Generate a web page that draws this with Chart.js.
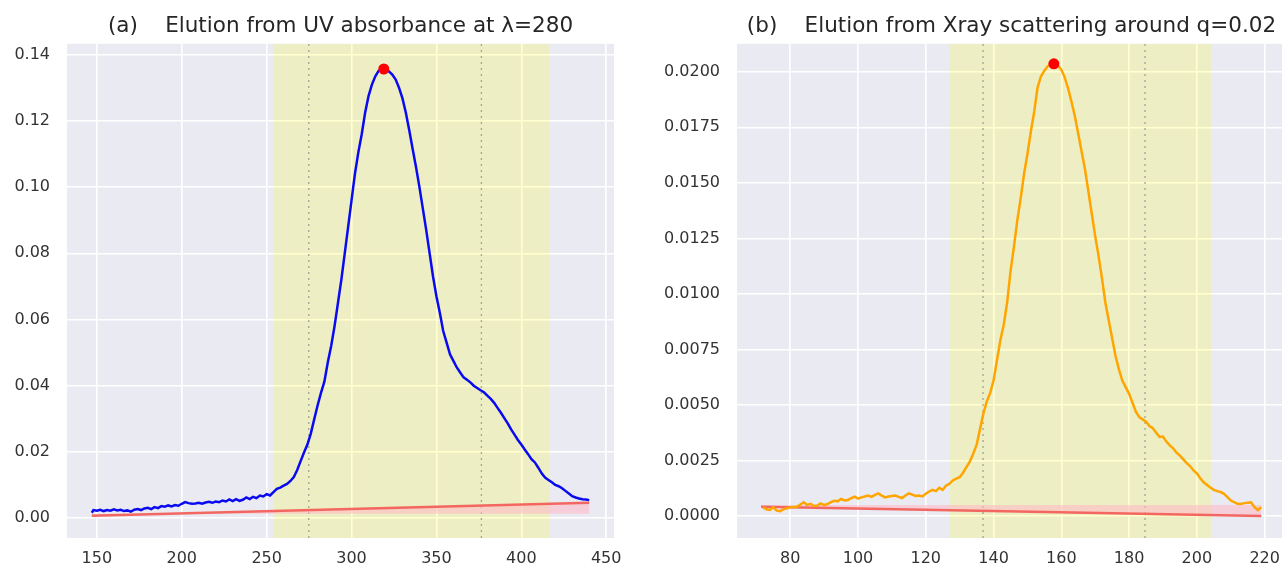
<!DOCTYPE html>
<html>
<head>
<meta charset="utf-8">
<script src="https://cdn.jsdelivr.net/npm/chart.js@4/dist/chart.umd.min.js"></script>
<style>
  html, body { margin: 0; padding: 0; background: #ffffff; overflow: hidden; width: 1282px; height: 572px; }
  .box { position: absolute; top: 0; height: 572px; }
  #boxA { left: 0; width: 640px; }
  #boxB { left: 640px; width: 660px; }
</style>
</head>
<body>
<div class="box" id="boxA"><canvas id="chartA"></canvas></div>
<div class="box" id="boxB"><canvas id="chartB"></canvas></div>
<script>
// ---------- Panel (a): UV absorbance at 280 ----------
const uvTitle = "(a)    Elution from UV absorbance at \u03bb=280";
const uvFrames = [147,148,150,152,154,156,158,160,162,164,166,168,170,172,174,176,178,180,182,184,186,188,190,192,194,196,198,200,202,204,206,208,210,212,214,216,218,220,222,224,226,228,230,232,234,236,238,240,242,244,246,248,250,252,254,256,258,260,262,264,266,268,270,272,274,276,278,280,282,284,286,288,290,292,294,296,298,300,302,304,306,308,310,312,314,316,318,320,322,324,326,328,330,332,334,336,338,340,342,344,346,348,350,352,354,356,358,360,362,364,366,368,370,372,374,376,378,380,382,384,386,388,390,392,394,396,398,400,402,404,406,408,410,412,414,416,418,420,422,424,426,428,430,432,434,436,438,440];
const uvAbs = [0.0016,0.0024,0.0022,0.0025,0.0021,0.0024,0.0022,0.0026,0.0023,0.0025,0.0021,0.0023,0.0019,0.0025,0.0027,0.0024,0.0029,0.0031,0.0027,0.0033,0.0030,0.0036,0.0034,0.0038,0.0035,0.0039,0.0037,0.0043,0.0048,0.0045,0.0043,0.0044,0.0046,0.0043,0.0047,0.0049,0.0046,0.0050,0.0048,0.0053,0.0050,0.0056,0.0051,0.0057,0.0052,0.0055,0.0062,0.0057,0.0064,0.0060,0.0068,0.0065,0.0072,0.0068,0.0078,0.0088,0.0092,0.0098,0.0103,0.0112,0.0124,0.0145,0.0172,0.0198,0.0222,0.0255,0.0298,0.0340,0.0378,0.0412,0.0470,0.0520,0.0580,0.0650,0.0720,0.0800,0.0880,0.0960,0.1040,0.1105,0.1160,0.1225,0.1275,0.1310,0.1335,0.1352,0.1357,0.1354,0.1350,0.1340,0.1325,0.1300,0.1268,0.1225,0.1172,0.1115,0.1060,0.1000,0.0935,0.0870,0.0800,0.0730,0.0670,0.0620,0.0565,0.0530,0.0495,0.0475,0.0455,0.0440,0.0425,0.0418,0.0410,0.0400,0.0393,0.0386,0.0380,0.0370,0.0360,0.0348,0.0333,0.0318,0.0302,0.0286,0.0268,0.0252,0.0236,0.0222,0.0207,0.0193,0.0178,0.0168,0.0152,0.0135,0.0122,0.0115,0.0108,0.0100,0.0096,0.0090,0.0082,0.0074,0.0066,0.0062,0.0059,0.0057,0.0056,0.0054];
const uvPeak = [319, 0.1357];
const uvBaseX = [147, 440];
const uvBaseY = [0.0007, 0.0046];
const uvBandLevel = [0.0013, 0.0013];
const uvRange = [253.9, 416.7];
const uvMarks = [274.8, 376.5];
const uvXLim = [132.4, 454.6];
const uvYLim = [-0.00604, 0.14332];
const uvXTicks = [150, 200, 250, 300, 350, 400, 450];
const uvYTicks = [0.00, 0.02, 0.04, 0.06, 0.08, 0.10, 0.12, 0.14];

// ---------- Panel (b): X-ray scattering around q=0.02 ----------
const xrTitle = "(b)    Elution from Xray scattering around q=0.02";
const xrFrames = [72,73,74,75,76,77,78,80,82,84,85,86,87,88,89,90,91,92,93,94,95,96,97,98,99,100,101,102,103,104,105,106,107,108,109,110,111,112,113,114,115,116,117,118,119,120,121,122,123,124,125,126,127,128,129,130,131,132,133,134,135,136,137,138,139,140,141,142,143,144,145,146,147,148,149,150,151,152,153,154,155,156,157,158,159,160,161,162,163,164,165,166,167,168,169,170,171,172,173,174,175,176,177,178,179,180,181,182,183,184,185,186,187,188,189,190,191,192,193,194,195,196,197,198,199,200,201,202,203,204,205,206,207,208,209,210,211,212,213,214,215,216,217,218,219];
const xrInt = [0.00039,0.00030,0.00027,0.00040,0.00024,0.00022,0.00030,0.00039,0.00042,0.00062,0.00050,0.00055,0.00045,0.00047,0.00057,0.00049,0.00054,0.00062,0.00069,0.00066,0.00077,0.00070,0.00072,0.00080,0.00087,0.00078,0.00084,0.00088,0.00092,0.00086,0.00095,0.00102,0.00092,0.00084,0.00088,0.00090,0.00092,0.00086,0.00081,0.00092,0.00102,0.00096,0.00090,0.00092,0.00088,0.00100,0.00110,0.00118,0.00112,0.00127,0.00118,0.00137,0.00145,0.00160,0.00168,0.00175,0.00195,0.00220,0.00245,0.00280,0.00320,0.00390,0.00462,0.00515,0.00553,0.00610,0.00700,0.00790,0.00860,0.00960,0.01100,0.01210,0.01330,0.01430,0.01540,0.01630,0.01730,0.01820,0.01930,0.01980,0.02005,0.02025,0.02033,0.02036,0.02028,0.02010,0.01975,0.01925,0.01865,0.01800,0.01720,0.01640,0.01560,0.01460,0.01360,0.01260,0.01170,0.01070,0.00960,0.00880,0.00800,0.00720,0.00660,0.00610,0.00580,0.00550,0.00510,0.00470,0.00445,0.00435,0.00425,0.00405,0.00395,0.00375,0.00356,0.00358,0.00335,0.00318,0.00305,0.00285,0.00272,0.00255,0.00238,0.00225,0.00205,0.00192,0.00170,0.00152,0.00140,0.00128,0.00118,0.00112,0.00108,0.00100,0.00085,0.00070,0.00062,0.00055,0.00054,0.00058,0.00060,0.00062,0.00040,0.00027,0.00039];
const xrPeak = [157.8, 0.02036];
const xrBaseX = [71.4, 219];
const xrBaseY = [0.00042, 0.0000];
const xrBandLevel = [0.00050, 0.00050];
const xrRange = [127.1, 204.2];
const xrMarks = [136.9, 184.7];
const xrXLim = [64.3, 226.3];
const xrYLim = [-0.00099, 0.02126];
const xrXTicks = [80, 100, 120, 140, 160, 180, 200, 220];
const xrYTicks = [0.0000, 0.0025, 0.0050, 0.0075, 0.0100, 0.0125, 0.0150, 0.0175, 0.0200];

// ---------- shared styling ----------
const FONT = "'DejaVu Sans', 'Open Sans', sans-serif";
const TEXT = '#333333';
const PLOT_BG = '#EAEAF2';

const plotBg = {
  id: 'plotBg',
  afterLayout(chart) {
    // centre the title over the plotting area (as matplotlib does)
    const t = chart.titleBlock, a = chart.chartArea;
    if (t && a) { t.left = a.left; t.right = a.right; t.width = a.right - a.left; }
  },
  beforeDraw(chart) {
    const a = chart.chartArea, c = chart.ctx;
    c.save();
    c.fillStyle = PLOT_BG;
    c.fillRect(a.left, a.top, a.right - a.left, a.bottom - a.top);
    c.restore();
  }
};

function zip(xs, ys) { return xs.map((x, i) => ({ x: x, y: ys[i] })); }

function makeChart(id, cfg) {
  const ylo = cfg.yLim[0], yhi = cfg.yLim[1];
  const datasets = [
    { // peak marker
      type: 'scatter', data: [{ x: cfg.peak[0], y: cfg.peak[1] }],
      pointRadius: 5.5, pointBackgroundColor: '#ff0000', pointBorderWidth: 0, pointHoverRadius: 5.5
    },
    { // elution curve
      type: 'line', data: zip(cfg.xs, cfg.ys), borderColor: cfg.color, borderWidth: 2.5,
      pointRadius: 0, tension: 0, fill: false
    },
    { // baseline
      type: 'line', data: zip(cfg.baseX, cfg.baseY), borderColor: 'rgba(242,96,90,0.95)', borderWidth: 2.4,
      pointRadius: 0, fill: false
    },
    { // band edge (pink fill to baseline)
      type: 'line', data: zip(cfg.baseX, cfg.band), borderColor: 'rgba(0,0,0,0)', borderWidth: 0,
      pointRadius: 0, fill: '-1', backgroundColor: 'rgba(255,182,196,0.55)'
    },
    { // dotted marker 1
      type: 'line', data: [{ x: cfg.marks[0], y: ylo }, { x: cfg.marks[0], y: yhi }],
      borderColor: 'rgba(150,150,140,0.8)', borderWidth: 1.4, borderDash: [2, 4], pointRadius: 0, fill: false
    },
    { // dotted marker 2
      type: 'line', data: [{ x: cfg.marks[1], y: ylo }, { x: cfg.marks[1], y: yhi }],
      borderColor: 'rgba(150,150,140,0.8)', borderWidth: 1.4, borderDash: [2, 4], pointRadius: 0, fill: false
    },
    { // selected range (yellow band)
      type: 'line', data: [{ x: cfg.range[0], y: yhi }, { x: cfg.range[1], y: yhi }],
      borderWidth: 0, borderColor: 'rgba(0,0,0,0)', pointRadius: 0,
      fill: 'start', backgroundColor: 'rgba(255,255,0,0.19)'
    }
  ];
  return new Chart(document.getElementById(id), {
    type: 'line',
    data: { datasets: datasets },
    options: {
      responsive: true, maintainAspectRatio: false, animation: false,
      events: [],
      layout: { padding: { left: 0, right: cfg.padRight, top: 0, bottom: 0 } },
      plugins: {
        legend: { display: false }, tooltip: { enabled: false },
        title: {
          display: true, text: cfg.title, color: '#262626',
          font: { family: FONT, size: 21.5, weight: 'normal' },
          padding: { top: 14, bottom: 4 }
        }
      },
      scales: {
        x: {
          type: 'linear', min: cfg.xLim[0], max: cfg.xLim[1],
          afterBuildTicks(s) { s.ticks = cfg.xTicks.map(v => ({ value: v })); },
          afterFit(s) { s.height = 34; },
          border: { display: false },
          grid: { color: '#ffffff', lineWidth: 1.6, drawTicks: false },
          ticks: { color: TEXT, font: { family: FONT, size: 16 }, padding: 11, maxRotation: 0,
                   callback: v => String(v) }
        },
        y: {
          type: 'linear', min: cfg.yLim[0], max: cfg.yLim[1],
          afterBuildTicks(s) { s.ticks = cfg.yTicks.map(v => ({ value: v })); },
          afterFit(s) { s.width = cfg.yWidth; },
          border: { display: false },
          grid: { color: '#ffffff', lineWidth: 1.6, drawTicks: false },
          ticks: { color: TEXT, font: { family: FONT, size: 16 }, padding: 17,
                   callback: v => Number(v).toFixed(cfg.yDec) }
        }
      }
    },
    plugins: [plotBg]
  });
}

makeChart('chartA', {
  title: uvTitle, xs: uvFrames, ys: uvAbs, color: '#0a0af0', peak: uvPeak,
  baseX: uvBaseX, baseY: uvBaseY, band: uvBandLevel, range: uvRange, marks: uvMarks,
  xLim: uvXLim, yLim: uvYLim, xTicks: uvXTicks, yTicks: uvYTicks, yDec: 2,
  yWidth: 67, padRight: 26
});
makeChart('chartB', {
  title: xrTitle, xs: xrFrames, ys: xrInt, color: '#FFA500', peak: xrPeak,
  baseX: xrBaseX, baseY: xrBaseY, band: xrBandLevel, range: xrRange, marks: xrMarks,
  xLim: xrXLim, yLim: xrYLim, xTicks: xrXTicks, yTicks: xrYTicks, yDec: 4,
  yWidth: 97, padRight: 14
});
</script>
</body>
</html>
